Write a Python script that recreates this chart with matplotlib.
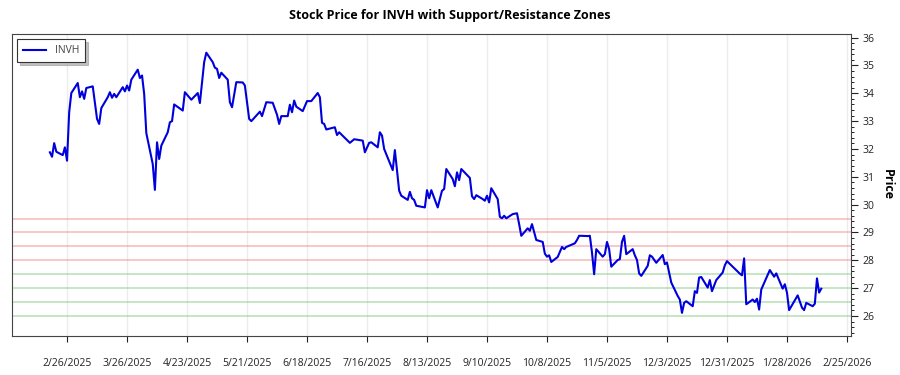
# INVH price with support / resistance bands

import datetime as dt

import matplotlib
matplotlib.use('Agg')
from matplotlib import pyplot as plt
import matplotlib.dates as mdates
from matplotlib.ticker import MultipleLocator, FuncFormatter

plt.rcParams['font.family'] = ['Open Sans', 'DejaVu Sans']

dates = [
    "2025-02-18", "2025-02-19", "2025-02-20", "2025-02-21", "2025-02-24", "2025-02-25",
    "2025-02-26", "2025-02-27", "2025-02-28", "2025-03-03", "2025-03-04", "2025-03-05",
    "2025-03-06", "2025-03-07", "2025-03-10", "2025-03-12", "2025-03-13", "2025-03-14",
    "2025-03-17", "2025-03-18", "2025-03-19", "2025-03-20", "2025-03-21", "2025-03-24",
    "2025-03-25", "2025-03-26", "2025-03-27", "2025-03-28", "2025-03-31", "2025-04-01",
    "2025-04-02", "2025-04-03", "2025-04-04", "2025-04-07", "2025-04-08", "2025-04-09",
    "2025-04-10", "2025-04-11", "2025-04-14", "2025-04-15", "2025-04-16", "2025-04-17",
    "2025-04-21", "2025-04-22", "2025-04-25", "2025-04-28", "2025-04-29", "2025-05-01",
    "2025-05-02", "2025-05-05", "2025-05-06", "2025-05-07", "2025-05-08", "2025-05-09",
    "2025-05-12", "2025-05-13", "2025-05-14", "2025-05-16", "2025-05-19", "2025-05-20",
    "2025-05-22", "2025-05-23", "2025-05-27", "2025-05-28", "2025-05-30", "2025-06-02",
    "2025-06-04", "2025-06-05", "2025-06-06", "2025-06-09", "2025-06-10", "2025-06-11",
    "2025-06-12", "2025-06-13", "2025-06-16", "2025-06-18", "2025-06-20", "2025-06-23",
    "2025-06-24", "2025-06-25", "2025-06-26", "2025-06-27", "2025-07-01", "2025-07-02",
    "2025-07-03", "2025-07-08", "2025-07-10", "2025-07-14", "2025-07-15", "2025-07-17",
    "2025-07-18", "2025-07-21", "2025-07-22", "2025-07-23", "2025-07-24", "2025-07-28",
    "2025-07-29", "2025-07-31", "2025-08-01", "2025-08-04", "2025-08-05", "2025-08-06",
    "2025-08-07", "2025-08-08", "2025-08-12", "2025-08-13", "2025-08-14", "2025-08-15",
    "2025-08-18", "2025-08-20", "2025-08-21", "2025-08-22", "2025-08-25", "2025-08-26",
    "2025-08-27", "2025-08-28", "2025-08-29", "2025-09-02", "2025-09-03", "2025-09-04",
    "2025-09-05", "2025-09-08", "2025-09-09", "2025-09-10", "2025-09-11", "2025-09-12",
    "2025-09-15", "2025-09-16", "2025-09-17", "2025-09-18", "2025-09-19", "2025-09-22",
    "2025-09-24", "2025-09-25", "2025-09-26", "2025-09-29", "2025-09-30", "2025-10-01",
    "2025-10-03", "2025-10-06", "2025-10-07", "2025-10-08", "2025-10-09", "2025-10-10",
    "2025-10-13", "2025-10-14", "2025-10-15", "2025-10-16", "2025-10-17", "2025-10-21",
    "2025-10-22", "2025-10-23", "2025-10-24", "2025-10-27", "2025-10-28", "2025-10-29",
    "2025-10-30", "2025-10-31", "2025-11-03", "2025-11-04", "2025-11-05", "2025-11-06",
    "2025-11-07", "2025-11-10", "2025-11-11", "2025-11-12", "2025-11-13", "2025-11-14",
    "2025-11-17", "2025-11-18", "2025-11-19", "2025-11-20", "2025-11-21", "2025-11-24",
    "2025-11-25", "2025-11-26", "2025-11-28", "2025-12-01", "2025-12-02", "2025-12-03",
    "2025-12-05", "2025-12-08", "2025-12-09", "2025-12-10", "2025-12-11", "2025-12-12",
    "2025-12-15", "2025-12-16", "2025-12-17", "2025-12-18", "2025-12-19", "2025-12-22",
    "2025-12-23", "2025-12-24", "2025-12-26", "2025-12-29", "2025-12-30", "2025-12-31",
    "2026-01-02", "2026-01-06", "2026-01-07", "2026-01-08", "2026-01-09", "2026-01-12",
    "2026-01-13", "2026-01-14", "2026-01-15", "2026-01-16", "2026-01-20", "2026-01-22",
    "2026-01-23", "2026-01-26", "2026-01-27", "2026-01-28", "2026-01-29", "2026-02-02",
    "2026-02-04", "2026-02-05", "2026-02-06", "2026-02-09", "2026-02-10", "2026-02-11",
    "2026-02-12", "2026-02-13",
]

prices = [
    31.88, 31.72, 32.21, 31.90, 31.78, 32.06,
    31.58, 33.32, 34.01, 34.37, 33.86, 34.07,
    33.80, 34.19, 34.25, 33.08, 32.90, 33.47,
    33.86, 34.04, 33.84, 33.98, 33.86, 34.22,
    34.07, 34.28, 34.10, 34.49, 34.85, 34.55,
    34.64, 33.98, 32.57, 31.46, 30.53, 32.24,
    31.64, 32.12, 32.60, 32.96, 33.00, 33.60,
    33.38, 34.04, 33.77, 34.01, 33.65, 35.12,
    35.46, 35.12, 34.92, 34.88, 34.55, 34.74,
    34.49, 33.68, 33.50, 34.40, 34.39, 34.28,
    33.08, 33.00, 33.34, 33.18, 33.68, 33.66,
    33.23, 32.90, 33.18, 33.18, 33.59, 33.32,
    33.74, 33.52, 33.36, 33.72, 33.72, 34.01,
    33.86, 32.94, 32.90, 32.70, 32.78, 32.50,
    32.60, 32.22, 32.35, 32.30, 31.88, 32.22,
    32.24, 32.06, 32.60, 32.48, 32.00, 31.24,
    31.96, 30.50, 30.32, 30.17, 30.46, 30.23,
    30.17, 29.96, 29.90, 30.52, 30.23, 30.52,
    29.90, 30.50, 30.56, 31.28, 30.92, 30.66,
    31.16, 30.88, 31.28, 30.96, 30.30, 30.20,
    30.34, 30.20, 30.14, 30.32, 30.08, 30.59,
    30.20, 29.56, 29.51, 29.60, 29.51, 29.66,
    29.69, 29.30, 28.88, 29.15, 29.06, 29.30,
    28.73, 28.66, 28.24, 28.13, 28.18, 27.94,
    28.12, 28.30, 28.48, 28.40, 28.48, 28.61,
    28.73, 28.88, 28.88, 28.87, 28.88, 28.28,
    27.50, 28.40, 28.13, 28.22, 28.66, 28.40,
    27.77, 28.01, 28.04, 28.66, 28.88, 28.22,
    28.40, 28.18, 28.01, 27.53, 27.44, 27.80,
    28.18, 28.13, 27.91, 28.19, 27.86, 27.92,
    27.20, 26.72, 26.59, 26.11, 26.47, 26.53,
    26.35, 26.89, 26.83, 27.38, 27.40, 27.02,
    27.29, 26.89, 27.29, 27.56, 27.82, 27.97,
    27.82, 27.52, 27.46, 28.07, 26.42, 26.59,
    26.50, 26.62, 26.23, 26.95, 27.65, 27.41,
    27.53, 26.98, 27.14, 26.84, 26.21, 26.74,
    26.30, 26.21, 26.47, 26.35, 26.44, 27.35,
    26.84, 26.98,
]

resistance = [28.0, 28.5, 29.0, 29.5]
support = [26.0, 26.5, 27.0, 27.5]

x = [dt.datetime.strptime(d, "%Y-%m-%d") for d in dates]

fig = plt.figure(figsize=(9, 3.75), dpi=100)
ax = fig.add_axes([0.0133, 0.104, 0.9323, 0.806])

for lvl in resistance:
    ax.axhline(lvl, color='#f08080', lw=1.2, alpha=0.5, zorder=1)
for lvl in support:
    ax.axhline(lvl, color='#6abf6a', lw=1.2, alpha=0.45, zorder=1)

ax.plot(x, prices, color='#0000dd', lw=1.5, label='INVH', zorder=3)

# axes ranges
start = dt.datetime(2025, 2, 26)
ax.set_xlim(mdates.date2num(start) - 25.7, mdates.date2num(start) + 365.9)
ax.set_ylim(25.28, 36.14)

ticks = [start + dt.timedelta(days=28 * i) for i in range(14)]
ax.set_xticks(ticks)
ax.xaxis.set_major_formatter(FuncFormatter(
    lambda v, p: "{d.month}/{d.day}/{d.year}".format(d=mdates.num2date(v))))
ax.grid(axis='x', color='#ececec', lw=1)
ax.set_axisbelow(True)

ax.yaxis.tick_right()
ax.yaxis.set_label_position('right')
ax.yaxis.set_major_locator(MultipleLocator(1))
ax.yaxis.set_minor_locator(MultipleLocator(0.2))
ax.tick_params(axis='y', which='major', length=5, labelsize=7.5, colors='#222222')
ax.tick_params(axis='y', which='minor', length=2.5)
ax.tick_params(axis='x', length=4, pad=12, labelsize=7.5, colors='#222222')

for s in ax.spines.values():
    s.set_color('#444444')

ax.set_ylabel('Price', fontweight='bold', fontsize=9, rotation=270, labelpad=14)
fig.text(0.5, 0.96, 'Stock Price for INVH with Support/Resistance Zones',
         fontweight='bold', fontsize=9, ha='center', va='center')

leg = ax.legend(loc='upper left', fontsize=7.5, fancybox=False,
                shadow={'color': '#999999', 'alpha': 0.6},
                edgecolor='#333333', borderpad=0.6, handlelength=2.2)
leg.get_frame().set_linewidth(0.8)
for t in leg.get_texts():
    t.set_color('#444444')

fig.savefig('out.png')
